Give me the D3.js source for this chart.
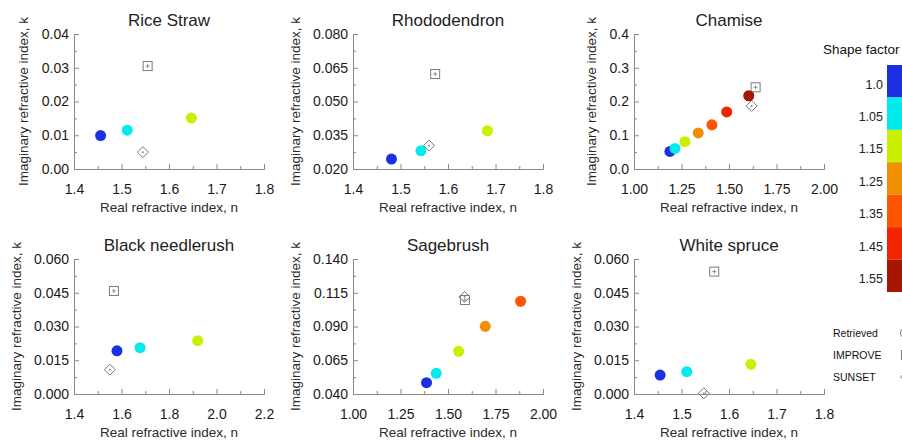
<!DOCTYPE html>
<html>
<head>
<meta charset="utf-8">
<script src="https://cdn.jsdelivr.net/npm/d3@7"></script>
<style>
  body { margin: 0; background: #fff; }
  svg { font-family: "Liberation Sans", Arial, Helvetica, sans-serif; }
  .axis path, .axis line { stroke: #8a8a8a; stroke-width: 1; }
  .axis text { fill: #1a1a1a; font-size: 14px; }
</style>
</head>
<body>
<svg id="chart" width="902" height="440"></svg>
<script>
const titles = ['Rice Straw', 'Rhododendron', 'Chamise', 'Black needlerush', 'Sagebrush', 'White spruce'];

const shapeFactors = ['1.0', '1.05', '1.15', '1.25', '1.35', '1.45', '1.55'];
const shapeColors = ['#1b30e2', '#00ecec', '#c8f000', '#ee9000', '#ff5400', '#f22400', '#a61600'];

// retrieved values, one point per shape factor (in order)
const retrievedN = [
  [1.456, 1.512, 1.647],
  [1.481, 1.543, 1.683],
  [1.189, 1.216, 1.268, 1.338, 1.410, 1.488, 1.604],
  [1.581, 1.678, 1.921],
  [1.387, 1.438, 1.556, 1.696, 1.882],
  [1.455, 1.511, 1.646]
];
const retrievedK = [
  [0.0099, 0.0115, 0.0151],
  [0.0244, 0.0281, 0.0370],
  [0.052, 0.061, 0.081, 0.107, 0.131, 0.169, 0.217],
  [0.0192, 0.0206, 0.0237],
  [0.0484, 0.0553, 0.0716, 0.0901, 0.1087],
  [0.0084, 0.0099, 0.0132]
];

const improveN = [1.555, 1.573, 1.640, 1.568, 1.589, 1.569];
const improveK = [0.0305, 0.0622, 0.242, 0.0458, 0.1096, 0.0544];
const sunsetN = [1.545, 1.560, 1.619, 1.551, 1.587, 1.547];
const sunsetK = [0.0050, 0.0304, 0.187, 0.0108, 0.1119, 0.0003];

const xTickLabels = [
  ['1.4', '1.5', '1.6', '1.7', '1.8'],
  ['1.4', '1.5', '1.6', '1.7', '1.8'],
  ['1.00', '1.25', '1.50', '1.75', '2.00'],
  ['1.4', '1.6', '1.8', '2.0', '2.2'],
  ['1.00', '1.25', '1.50', '1.75', '2.00'],
  ['1.4', '1.5', '1.6', '1.7', '1.8']
];
const yTickLabels = [
  ['0.00', '0.01', '0.02', '0.03', '0.04'],
  ['0.020', '0.035', '0.050', '0.065', '0.080'],
  ['0.0', '0.1', '0.2', '0.3', '0.4'],
  ['0.000', '0.015', '0.030', '0.045', '0.060'],
  ['0.040', '0.065', '0.090', '0.115', '0.140'],
  ['0.000', '0.015', '0.030', '0.045', '0.060']
];

const legendLabels = ['Retrieved', 'IMPROVE', 'SUNSET'];

const COL_LEFT = [74, 353, 634];
const ROW_TOP = [34, 259];
const PLOT_W = 190;
const PLOT_H = 135;
const DOT_R = 5.5;
const SYMBOL_GREY = '#7a7a7a';

const svg = d3.select('#chart');

titles.forEach((title, i) => {
  const g = svg.append('g')
    .attr('transform', `translate(${COL_LEFT[i % 3]}, ${ROW_TOP[Math.floor(i / 3)]})`);
  drawPanel(g, i);
});

drawLegend();

function midpoints(values) {
  return values.slice(1).map((v, j) => (v + values[j]) / 2);
}

function drawPanel(g, i) {
  const xt = xTickLabels[i].map(Number);
  const yt = yTickLabels[i].map(Number);
  const x = d3.scaleLinear().domain([xt[0], xt[xt.length - 1]]).range([0, PLOT_W]);
  const y = d3.scaleLinear().domain([yt[0], yt[yt.length - 1]]).range([PLOT_H, 0]);

  // minor ticks first, then the labelled ones
  g.append('g').attr('class', 'axis')
    .attr('transform', `translate(0, ${PLOT_H})`)
    .call(d3.axisBottom(x).tickValues(midpoints(xt)).tickSizeInner(-3).tickSizeOuter(0).tickFormat(''));
  g.append('g').attr('class', 'axis')
    .call(d3.axisLeft(y).tickValues(midpoints(yt)).tickSizeInner(-3).tickSizeOuter(0).tickFormat(''));

  g.append('g').attr('class', 'axis')
    .attr('transform', `translate(0, ${PLOT_H})`)
    .call(d3.axisBottom(x).tickValues(xt).tickSizeInner(-5).tickSizeOuter(0).tickPadding(15)
      .tickFormat((d, j) => xTickLabels[i][j]));

  const yAxis = g.append('g').attr('class', 'axis')
    .call(d3.axisLeft(y).tickValues(yt).tickSizeInner(-5).tickSizeOuter(0).tickPadding(5)
      .tickFormat((d, j) => yTickLabels[i][j]));

  let labelW = 0;
  yAxis.selectAll('text').each(function () {
    labelW = Math.max(labelW, this.getComputedTextLength());
  });

  g.append('text')
    .attr('x', PLOT_W / 2)
    .attr('y', -8)
    .attr('text-anchor', 'middle')
    .attr('font-size', 17)
    .attr('fill', '#222')
    .text(titles[i]);

  g.append('text')
    .attr('x', PLOT_W / 2)
    .attr('y', PLOT_H + 43)
    .attr('text-anchor', 'middle')
    .attr('font-size', 13.5)
    .attr('fill', '#2a2a2a')
    .text('Real refractive index, n');

  g.append('text')
    .attr('transform', `translate(${-(5 + labelW + 18)}, ${PLOT_H / 2}) rotate(-90)`)
    .attr('dy', '0.35em')
    .attr('text-anchor', 'middle')
    .attr('font-size', 13.5)
    .attr('fill', '#2a2a2a')
    .text('Imaginary refractive index, k');

  // measured: IMPROVE square, SUNSET diamond
  drawSquare(g, x(improveN[i]), y(improveK[i]));
  drawDiamond(g, x(sunsetN[i]), y(sunsetK[i]));

  g.selectAll('.dot')
    .data(retrievedN[i].map((n, j) => ({ n: n, k: retrievedK[i][j], c: shapeColors[j] })))
    .enter()
    .append('circle')
    .attr('class', 'dot')
    .attr('cx', d => x(d.n))
    .attr('cy', d => y(d.k))
    .attr('r', DOT_R)
    .attr('fill', d => d.c);
}

function drawSquare(g, cx, cy) {
  g.append('rect')
    .attr('x', cx - 4.5)
    .attr('y', cy - 4.5)
    .attr('width', 9)
    .attr('height', 9)
    .attr('fill', 'none')
    .attr('stroke', SYMBOL_GREY)
    .attr('stroke-width', 1);
  g.append('path')
    .attr('d', `M${cx - 2},${cy}H${cx + 2}M${cx},${cy - 2}V${cy + 2}`)
    .attr('stroke', SYMBOL_GREY)
    .attr('stroke-width', 0.8);
}

function drawDiamond(g, cx, cy) {
  const s = 5.5;
  g.append('path')
    .attr('d', `M${cx},${cy - s}L${cx + s},${cy}L${cx},${cy + s}L${cx - s},${cy}Z`)
    .attr('fill', 'none')
    .attr('stroke', SYMBOL_GREY)
    .attr('stroke-width', 1);
  g.append('circle')
    .attr('cx', cx)
    .attr('cy', cy)
    .attr('r', 0.9)
    .attr('fill', SYMBOL_GREY);
}

function drawLegend() {
  const lg = svg.append('g');
  lg.append('text')
    .attr('x', 823)
    .attr('y', 54)
    .attr('font-size', 13.5)
    .attr('fill', '#111')
    .text('Shape factor');

  const band = d3.scaleBand().domain(shapeFactors).range([65, 292]);
  lg.selectAll('.swatch')
    .data(shapeFactors)
    .enter()
    .append('rect')
    .attr('class', 'swatch')
    .attr('x', 887)
    .attr('y', d => band(d))
    .attr('width', 20)
    .attr('height', band.bandwidth())
    .attr('fill', (d, j) => shapeColors[j]);

  lg.selectAll('.swatch-label')
    .data(shapeFactors)
    .enter()
    .append('text')
    .attr('class', 'swatch-label')
    .attr('x', 883)
    .attr('y', d => band(d) + band.bandwidth() / 2 + 3)
    .attr('dy', '0.35em')
    .attr('text-anchor', 'end')
    .attr('font-size', 12.5)
    .attr('fill', '#222')
    .text(d => d);

  const rowY = d3.scalePoint().domain(legendLabels).range([333, 377]);
  lg.selectAll('.sym-label')
    .data(legendLabels)
    .enter()
    .append('text')
    .attr('class', 'sym-label')
    .attr('x', 833)
    .attr('y', d => rowY(d))
    .attr('dy', '0.35em')
    .attr('font-size', 10.5)
    .attr('fill', '#111')
    .text(d => d);

  lg.append('circle')
    .attr('cx', 906)
    .attr('cy', rowY('Retrieved'))
    .attr('r', 5.5)
    .attr('fill', 'none')
    .attr('stroke', SYMBOL_GREY);
  drawSquare(lg, 906, rowY('IMPROVE'));
  drawDiamond(lg, 906, rowY('SUNSET'));
}
</script>
</body>
</html>
